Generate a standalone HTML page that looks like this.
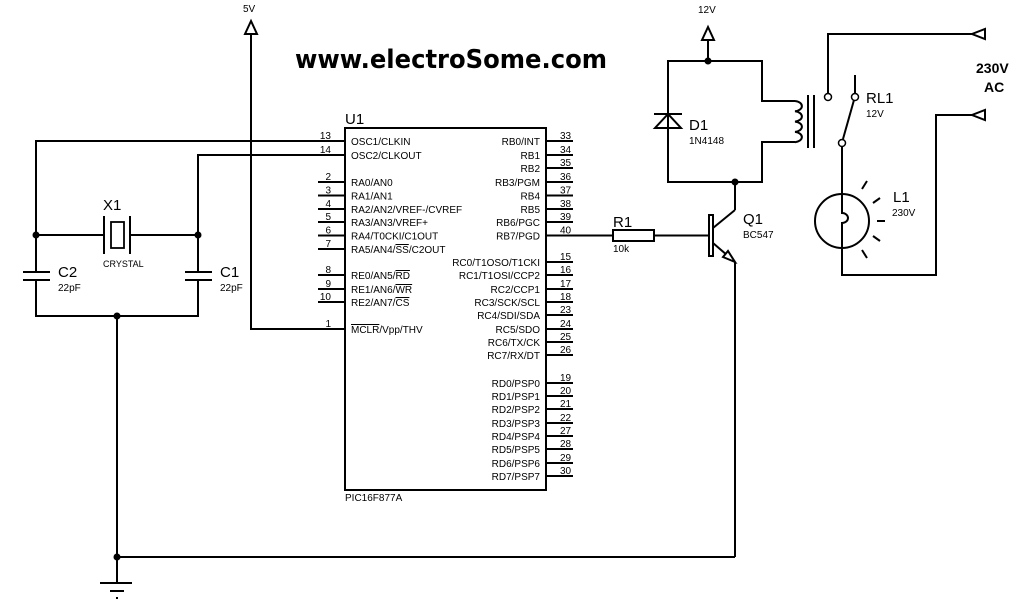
<!DOCTYPE html>
<html><head><meta charset="utf-8"><style>
html,body{margin:0;padding:0;background:#fff;}
svg{display:block;}
text{font-family:"Liberation Sans",Arial,sans-serif;fill:#000;}
</style></head><body>
<svg width="1024" height="600" viewBox="0 0 1024 600" xmlns="http://www.w3.org/2000/svg">
<g stroke="#000" stroke-width="2" fill="none">
<rect x="345" y="128" width="201" height="362"/>
<line x1="318" y1="141" x2="345" y2="141"/>
<line x1="318" y1="155" x2="345" y2="155"/>
<line x1="318" y1="182" x2="345" y2="182"/>
<line x1="318" y1="195.5" x2="345" y2="195.5"/>
<line x1="318" y1="209" x2="345" y2="209"/>
<line x1="318" y1="222" x2="345" y2="222"/>
<line x1="318" y1="235.5" x2="345" y2="235.5"/>
<line x1="318" y1="249" x2="345" y2="249"/>
<line x1="318" y1="275" x2="345" y2="275"/>
<line x1="318" y1="289" x2="345" y2="289"/>
<line x1="318" y1="302" x2="345" y2="302"/>
<line x1="318" y1="329" x2="345" y2="329"/>
<line x1="546" y1="141" x2="573" y2="141"/>
<line x1="546" y1="155" x2="573" y2="155"/>
<line x1="546" y1="168" x2="573" y2="168"/>
<line x1="546" y1="182" x2="573" y2="182"/>
<line x1="546" y1="195.5" x2="573" y2="195.5"/>
<line x1="546" y1="209" x2="573" y2="209"/>
<line x1="546" y1="222" x2="573" y2="222"/>
<line x1="546" y1="235.5" x2="613" y2="235.5"/>
<line x1="546" y1="262" x2="573" y2="262"/>
<line x1="546" y1="275" x2="573" y2="275"/>
<line x1="546" y1="289" x2="573" y2="289"/>
<line x1="546" y1="302" x2="573" y2="302"/>
<line x1="546" y1="315" x2="573" y2="315"/>
<line x1="546" y1="329" x2="573" y2="329"/>
<line x1="546" y1="342" x2="573" y2="342"/>
<line x1="546" y1="355" x2="573" y2="355"/>
<line x1="546" y1="383" x2="573" y2="383"/>
<line x1="546" y1="396" x2="573" y2="396"/>
<line x1="546" y1="409" x2="573" y2="409"/>
<line x1="546" y1="423" x2="573" y2="423"/>
<line x1="546" y1="436" x2="573" y2="436"/>
<line x1="546" y1="449" x2="573" y2="449"/>
<line x1="546" y1="463" x2="573" y2="463"/>
<line x1="546" y1="476" x2="573" y2="476"/>
<polyline points="318,141 36,141 36,316 198,316 198,155 318,155"/>
<line x1="36" y1="235" x2="104" y2="235"/>
<line x1="130" y1="235" x2="198" y2="235"/>
<line x1="104" y1="216" x2="104" y2="254"/>
<line x1="130" y1="216" x2="130" y2="254"/>
<rect x="111" y="222" width="13" height="26" stroke-width="1.8"/>
</g>
<rect x="20" y="273" width="35" height="6" fill="#fff"/>
<rect x="182" y="273" width="35" height="6" fill="#fff"/>
<g stroke="#000" stroke-width="2" fill="none">
<line x1="23" y1="272" x2="50" y2="272"/><line x1="23" y1="280" x2="50" y2="280"/>
<line x1="185" y1="272" x2="212" y2="272"/><line x1="185" y1="280" x2="212" y2="280"/>
<line x1="117" y1="316" x2="117" y2="583"/>
<line x1="117" y1="557" x2="735" y2="557"/>
<line x1="100" y1="583" x2="132" y2="583"/>
<line x1="110" y1="591" x2="124" y2="591"/>
<line x1="116" y1="598" x2="118" y2="598"/>
<polyline points="318,329 251,329 251,34"/>
<polygon points="251,21 245,34 257,34"/>
<rect x="613" y="230" width="41" height="11"/>
<line x1="654" y1="235.5" x2="710" y2="235.5"/>
<rect x="709" y="215" width="4" height="41"/>
<line x1="713" y1="228" x2="735" y2="210"/>
<line x1="735" y1="210" x2="735" y2="182"/>
<line x1="713" y1="243" x2="735" y2="262"/>
<line x1="735" y1="262" x2="735" y2="557"/>
<polygon points="735,262 723,257 728,251" fill="#fff"/>
<polyline points="735,182 668,182 668,61 762,61 762,101 795,101"/>
<polyline points="735,182 762,182 762,142 795,142"/>
<path d="M795,101 a8,5.2 0 0 1 0,10.3 a8,5.2 0 0 1 0,10.3 a8,5.2 0 0 1 0,10.3 a8,5.2 0 0 1 0,10.3" />
<line x1="708" y1="61" x2="708" y2="40"/>
<polygon points="708,27 702,40 714,40"/>
<polygon points="668,114 655,128 681,128"/>
<line x1="654" y1="114" x2="682" y2="114"/>
<line x1="808" y1="95" x2="808" y2="148"/>
<line x1="814" y1="95" x2="814" y2="148"/>
<polyline points="828,93 828,34 972,34"/>
<polygon points="985,29 985,39 972,34"/>
<circle cx="828" cy="97" r="3.5" stroke-width="1.5"/>
<line x1="855" y1="75" x2="855" y2="93"/>
<circle cx="855" cy="97" r="3.5" stroke-width="1.5"/>
<line x1="854" y1="100" x2="843" y2="139"/>
<circle cx="842" cy="143" r="3.5" stroke-width="1.5"/>
<line x1="842" y1="147" x2="842" y2="196"/>
<circle cx="842" cy="221" r="27"/>
<path d="M842,196 L842,213 a6,5 0 1 1 0,10 L842,249"/>
<polyline points="842,249 842,275 936,275 936,115 972,115"/>
<polygon points="985,110 985,120 972,115"/>
<line x1="862" y1="189" x2="867" y2="181"/>
<line x1="873" y1="203" x2="880" y2="198"/>
<line x1="877" y1="221" x2="885" y2="221"/>
<line x1="873" y1="236" x2="880" y2="241"/>
<line x1="862" y1="250" x2="867" y2="258"/>
</g>
<g fill="#000">
<circle cx="36" cy="235" r="3.5"/><circle cx="198" cy="235" r="3.5"/>
<circle cx="117" cy="316" r="3.5"/><circle cx="117" cy="557" r="3.5"/>
<circle cx="708" cy="61" r="3.5"/><circle cx="735" cy="182" r="3.5"/>
</g>
<text x="295" y="68" font-size="26" font-weight="bold" style="font-family:'DejaVu Sans',sans-serif" textLength="312" lengthAdjust="spacingAndGlyphs">www.electroSome.com</text>
<text x="243" y="12" font-size="10">5V</text>
<text x="698" y="13" font-size="10">12V</text>
<text x="976" y="73" font-size="14" font-weight="bold">230V</text>
<text x="984" y="92" font-size="14" font-weight="bold">AC</text>
<text x="345" y="124" font-size="15">U1</text>
<text x="345" y="501" font-size="10">PIC16F877A</text>
<text x="103" y="210" font-size="15">X1</text>
<text x="103" y="267" font-size="9">CRYSTAL</text>
<text x="58" y="277" font-size="15">C2</text>
<text x="58" y="291" font-size="10">22pF</text>
<text x="220" y="277" font-size="15">C1</text>
<text x="220" y="291" font-size="10">22pF</text>
<text x="613" y="227" font-size="15">R1</text>
<text x="613" y="252" font-size="10">10k</text>
<text x="743" y="224" font-size="15">Q1</text>
<text x="743" y="238" font-size="10">BC547</text>
<text x="689" y="130" font-size="15">D1</text>
<text x="689" y="144" font-size="10">1N4148</text>
<text x="866" y="103" font-size="15">RL1</text>
<text x="866" y="117" font-size="10">12V</text>
<text x="893" y="202" font-size="15">L1</text>
<text x="892" y="216" font-size="10">230V</text>
<g font-size="10">
<text x="351" y="145">OSC1/CLKIN</text>
<text x="351" y="159">OSC2/CLKOUT</text>
<text x="351" y="186">RA0/AN0</text>
<text x="351" y="199.5">RA1/AN1</text>
<text x="351" y="213">RA2/AN2/VREF-/CVREF</text>
<text x="351" y="226">RA3/AN3/VREF+</text>
<text x="351" y="239.5">RA4/T0CKI/C1OUT</text>
<text x="351" y="253">RA5/AN4/<tspan text-decoration="overline">SS</tspan>/C2OUT</text>
<text x="351" y="279">RE0/AN5/<tspan text-decoration="overline">RD</tspan></text>
<text x="351" y="293">RE1/AN6/<tspan text-decoration="overline">WR</tspan></text>
<text x="351" y="306">RE2/AN7/<tspan text-decoration="overline">CS</tspan></text>
<text x="351" y="333"><tspan text-decoration="overline">MCLR</tspan>/Vpp/THV</text>
</g>
<g font-size="10" text-anchor="end">
<text x="540" y="145">RB0/INT</text>
<text x="540" y="159">RB1</text>
<text x="540" y="172">RB2</text>
<text x="540" y="186">RB3/PGM</text>
<text x="540" y="199.5">RB4</text>
<text x="540" y="213">RB5</text>
<text x="540" y="226">RB6/PGC</text>
<text x="540" y="239.5">RB7/PGD</text>
<text x="540" y="266">RC0/T1OSO/T1CKI</text>
<text x="540" y="279">RC1/T1OSI/CCP2</text>
<text x="540" y="293">RC2/CCP1</text>
<text x="540" y="306">RC3/SCK/SCL</text>
<text x="540" y="319">RC4/SDI/SDA</text>
<text x="540" y="333">RC5/SDO</text>
<text x="540" y="346">RC6/TX/CK</text>
<text x="540" y="359">RC7/RX/DT</text>
<text x="540" y="387">RD0/PSP0</text>
<text x="540" y="400">RD1/PSP1</text>
<text x="540" y="413">RD2/PSP2</text>
<text x="540" y="427">RD3/PSP3</text>
<text x="540" y="440">RD4/PSP4</text>
<text x="540" y="453">RD5/PSP5</text>
<text x="540" y="467">RD6/PSP6</text>
<text x="540" y="480">RD7/PSP7</text>
</g>
<g font-size="10" text-anchor="end">
<text x="331" y="139">13</text><text x="331" y="153">14</text>
<text x="331" y="180">2</text><text x="331" y="193.5">3</text><text x="331" y="207">4</text>
<text x="331" y="220">5</text><text x="331" y="233.5">6</text><text x="331" y="247">7</text>
<text x="331" y="273">8</text><text x="331" y="287">9</text><text x="331" y="300">10</text>
<text x="331" y="327">1</text>
</g>
<g font-size="10">
<text x="560" y="139">33</text><text x="560" y="153">34</text><text x="560" y="166">35</text>
<text x="560" y="180">36</text><text x="560" y="193.5">37</text><text x="560" y="207">38</text>
<text x="560" y="220">39</text><text x="560" y="233.5">40</text>
<text x="560" y="260">15</text><text x="560" y="273">16</text><text x="560" y="287">17</text>
<text x="560" y="300">18</text><text x="560" y="313">23</text><text x="560" y="327">24</text>
<text x="560" y="340">25</text><text x="560" y="353">26</text>
<text x="560" y="381">19</text><text x="560" y="394">20</text><text x="560" y="407">21</text>
<text x="560" y="421">22</text><text x="560" y="434">27</text><text x="560" y="447">28</text>
<text x="560" y="461">29</text><text x="560" y="474">30</text>
</g>
</svg>
</body></html>
